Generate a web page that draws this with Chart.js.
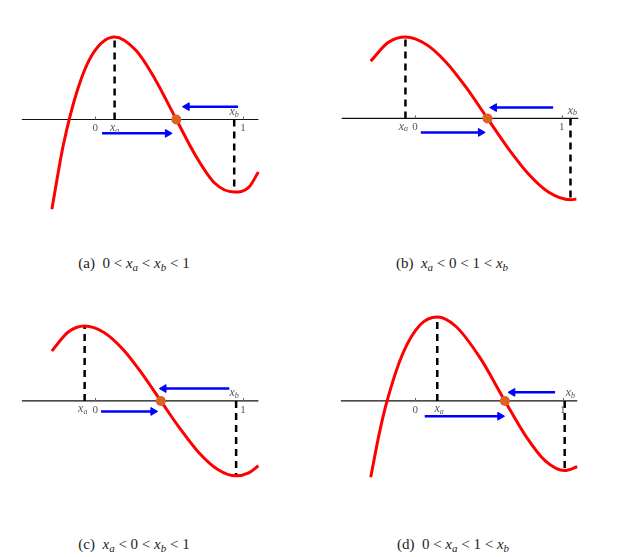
<!DOCTYPE html>
<html>
<head>
<meta charset="utf-8">
<script src="https://cdn.jsdelivr.net/npm/chart.js@4.4.1/dist/chart.umd.min.js"></script>
<style>
  body { margin: 0; background: #fff; width: 631px; height: 557px; position: relative; overflow: hidden; }
  .panel { position: absolute; }
  .cap { position: absolute; font-family: 'Liberation Serif', 'Times New Roman', 'DejaVu Serif', serif; font-size: 15px; color: #222; white-space: nowrap; transform: translate(-50%, -50%); }
  .cap sub { font-size: 11px; vertical-align: -3px; line-height: 0; }
</style>
</head>
<body>
<div class="panel" style="left:0;top:0"><canvas id="cA" width="315" height="240"></canvas></div>
<div class="panel" style="left:315px;top:0"><canvas id="cB" width="316" height="240"></canvas></div>
<div class="panel" style="left:0;top:280px"><canvas id="cC" width="315" height="240"></canvas></div>
<div class="panel" style="left:315px;top:280px"><canvas id="cD" width="316" height="240"></canvas></div>

<div class="cap" style="left:134px;top:263px">(a)&nbsp; 0 &lt; <i>x</i><sub><i>a</i></sub> &lt; <i>x</i><sub><i>b</i></sub> &lt; 1</div>
<div class="cap" style="left:452px;top:263px">(b)&nbsp; <i>x</i><sub><i>a</i></sub> &lt; 0 &lt; 1 &lt; <i>x</i><sub><i>b</i></sub></div>
<div class="cap" style="left:134px;top:544px">(c)&nbsp; <i>x</i><sub><i>a</i></sub> &lt; 0 &lt; <i>x</i><sub><i>b</i></sub> &lt; 1</div>
<div class="cap" style="left:453px;top:544px">(d)&nbsp; 0 &lt; <i>x</i><sub><i>a</i></sub> &lt; 1 &lt; <i>x</i><sub><i>b</i></sub></div>

<script>
// Curve samples (x: axis units where ticks 0 and 1 sit, y: height above axis)
const curveAX = [-0.294, -0.216, -0.118, -0.020, 0.131, 0.275, 0.405, 0.549, 0.680, 0.810, 0.941, 1.039, 1.105];
const curveAY = [-0.94, -0.265, 0.323, 0.682, 0.865, 0.725, 0.423, 0, -0.379, -0.668, -0.76, -0.712, -0.55];

const curveBX = [-0.303, -0.184, -0.066, 0.079, 0.211, 0.349, 0.493, 0.638, 0.776, 0.908, 1.059, 1.099];
const curveBY = [0.60, 0.795, 0.853, 0.772, 0.589, 0.322, 0, -0.322, -0.589, -0.772, -0.853, -0.846];

const curveCX = [-0.294, -0.183, -0.072, 0.059, 0.190, 0.320, 0.444, 0.569, 0.699, 0.830, 0.954, 1.039, 1.105];
const curveCY = [0.524, 0.722, 0.785, 0.718, 0.537, 0.279, 0, -0.279, -0.537, -0.718, -0.785, -0.754, -0.679];

const curveDX = [-0.301, -0.242, -0.190, -0.085, 0.033, 0.150, 0.275, 0.438, 0.608, 0.752, 0.882, 1.013, 1.098];
const curveDY = [-0.80, -0.335, 0, 0.492, 0.796, 0.88, 0.783, 0.456, 0, -0.374, -0.629, -0.73, -0.69];

// critical points [xa, peak, xb, trough] and the root with the dot
const extremaA = [0.131, 0.865, 0.941, -0.76];
const extremaB = [-0.066, 0.853, 1.059, -0.853];
const extremaC = [-0.072, 0.785, 0.954, -0.785];
const extremaD = [0.150, 0.88, 1.013, -0.73];
const rootA = 0.549, rootB = 0.493, rootC = 0.444, rootD = 0.608;

// axis line extent
const axisA = [-0.497, 1.105];
const axisB = [-0.500, 1.112];
const axisC = [-0.497, 1.105];
const axisD = [-0.503, 1.098];

// arrows: [x from, x to, y]
const arrowsA = [[0.967, 0.621, 0.135], [0.046, 0.490, -0.145]];
const arrowsB = [[0.941, 0.539, 0.113], [0.039, 0.447, -0.147]];
const arrowsC = [[0.908, 0.464, 0.13], [0.039, 0.392, -0.11]];
const arrowsD = [[0.948, 0.660, 0.09], [0.065, 0.575, -0.16]];

// tick labels: [text, subscript, x, side]
const labelsA = [['0', '', 0, 'below'], ['x', 'a', 0.131, 'below'], ['x', 'b', 0.941, 'above'], ['1', '', 1, 'below']];
const labelsB = [['x', 'a', -0.080, 'below'], ['0', '', 0, 'below'], ['1', '', 1, 'below'], ['x', 'b', 1.072, 'above']];
const labelsC = [['x', 'a', -0.085, 'below'], ['0', '', 0, 'below'], ['x', 'b', 0.941, 'above'], ['1', '', 1, 'below']];
const labelsD = [['0', '', 0, 'below'], ['x', 'a', 0.163, 'below'], ['1', '', 1, 'below'], ['x', 'b', 1.052, 'above']];

const tickValues = [0, 1];

const pts = (xs, ys) => xs.map((x, i) => ({ x: x, y: ys[i] }));

const serif = '"Liberation Serif", "Times New Roman", serif';

const labelPlugin = {
    id: 'axisLabels',
    afterDatasetsDraw(chart, args, opts) {
        const ctx = chart.ctx;
        const xs = chart.scales.x, ys = chart.scales.y;
        const y0 = ys.getPixelForValue(0);
        ctx.save();
        // small tick marks
        ctx.strokeStyle = '#666';
        ctx.lineWidth = 1;
        tickValues.forEach(v => {
            const px = Math.round(xs.getPixelForValue(v)) + 0.5;
            ctx.beginPath();
            ctx.moveTo(px, y0);
            ctx.lineTo(px, y0 - 3);
            ctx.stroke();
        });
        ctx.fillStyle = '#555';
        ctx.textBaseline = 'middle';
        opts.labels.forEach(l => {
            const px = xs.getPixelForValue(l[2]);
            const py = l[3] === 'below' ? y0 + 9 : y0 - 7;
            if (l[1]) {
                ctx.font = 'italic 12px ' + serif;
                const w = ctx.measureText(l[0]).width;
                ctx.font = 'italic 8px ' + serif;
                const ws = ctx.measureText(l[1]).width;
                const left = px - (w + ws) / 2;
                ctx.font = 'italic 12px ' + serif;
                ctx.textAlign = 'left';
                ctx.fillText(l[0], left, py - 1);
                ctx.font = 'italic 8px ' + serif;
                ctx.fillText(l[1], left + w, py + 2);
            } else {
                ctx.font = '11px ' + serif;
                ctx.textAlign = 'center';
                ctx.fillText(l[0], px, py);
            }
        });
        ctx.restore();
    }
};

function makePanel(id, cx, cy, ext, root, axis, arrows, labels, range) {
    const datasets = [];
    datasets.push({
        data: [{ x: root, y: 0 }],
        pointRadius: 5, pointBackgroundColor: '#dd6222', pointBorderWidth: 0,
        order: 0
    });
    datasets.push({
        data: pts(cx, cy), showLine: true, borderColor: '#ff0000', borderWidth: 3,
        cubicInterpolationMode: 'monotone', pointRadius: 0, order: 1
    });
    datasets.push({
        data: [{ x: ext[0], y: 0 }, { x: ext[0], y: ext[1] }], showLine: true,
        borderColor: '#000', borderWidth: 2.5, borderDash: [7, 5], pointRadius: 0, order: 2
    });
    datasets.push({
        data: [{ x: ext[2], y: 0 }, { x: ext[2], y: ext[3] }], showLine: true,
        borderColor: '#000', borderWidth: 2.5, borderDash: [7, 5], pointRadius: 0, order: 2
    });
    arrows.forEach(a => {
        datasets.push({
            data: [{ x: a[0], y: a[2] }, { x: a[1], y: a[2] }], showLine: true,
            borderColor: '#0000ff', borderWidth: 2.5,
            pointRadius: [0, 4.5], pointStyle: 'triangle',
            pointRotation: a[1] > a[0] ? 90 : -90,
            pointBackgroundColor: '#0000ff', pointBorderColor: '#0000ff', pointBorderWidth: 1,
            order: 3
        });
    });
    datasets.push({
        data: [{ x: axis[0], y: 0 }, { x: axis[1], y: 0 }], showLine: true,
        borderColor: '#111', borderWidth: 1.2, pointRadius: 0, order: 4
    });

    new Chart(document.getElementById(id), {
        type: 'scatter',
        data: { datasets: datasets },
        options: {
            responsive: false,
            animation: false,
            layout: { padding: 0 },
            scales: {
                x: { type: 'linear', display: false, min: range[0], max: range[1] },
                y: { type: 'linear', display: false, min: range[2], max: range[3] }
            },
            plugins: {
                legend: { display: false },
                tooltip: { enabled: false },
                axisLabels: { labels: labels }
            }
        },
        plugins: [labelPlugin]
    });
}

makePanel('cA', curveAX, curveAY, extremaA, rootA, axisA, arrowsA, labelsA, [-0.608, 1.451, -1.205, 1.195]);
makePanel('cB', curveBX, curveBY, extremaB, rootB, axisB, arrowsB, labelsB, [-0.645, 1.434, -1.217, 1.183]);
makePanel('cC', curveCX, curveCY, extremaC, rootC, axisC, arrowsC, labelsC, [-0.608, 1.451, -1.19, 1.21]);
makePanel('cD', curveDX, curveDY, extremaD, rootD, axisD, arrowsD, labelsD, [-0.641, 1.425, -1.19, 1.21]);
</script>
</body>
</html>
